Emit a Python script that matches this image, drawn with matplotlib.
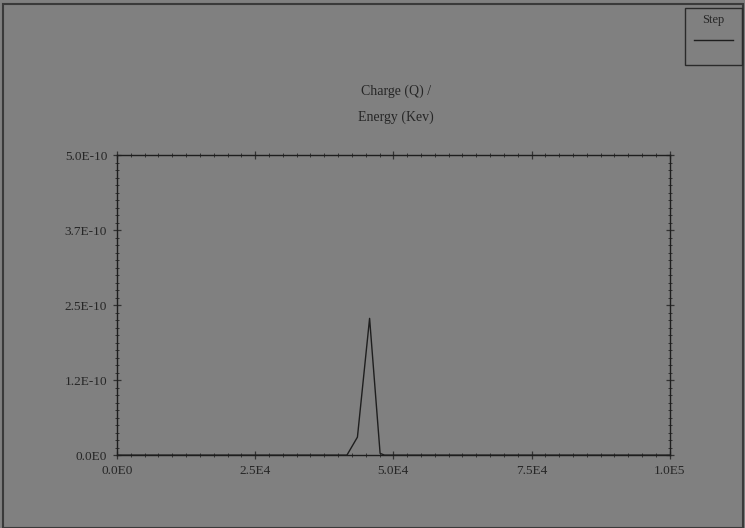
import matplotlib
matplotlib.use("Agg")
import matplotlib.pyplot as plt
from matplotlib.ticker import MultipleLocator
from matplotlib.patches import Rectangle
from matplotlib.lines import Line2D

# Step spectrum: charge vs energy
energy = [0, 40000, 41600, 43500, 45700, 47600, 48400, 100000]
charge = [0, 0, 0, 0.30e-10, 2.28e-10, 0.03e-10, 0, 0]

x_ticks = [0, 25000, 50000, 75000, 100000]
x_labels = ["0.0E0", "2.5E4", "5.0E4", "7.5E4", "1.0E5"]
y_ticks = [0, 1.25e-10, 2.5e-10, 3.75e-10, 5.0e-10]
y_labels = ["0.0E0", "1.2E-10", "2.5E-10", "3.7E-10", "5.0E-10"]

bg = "#808080"
ink = "#1e1e1e"
txt = "#262626"

plt.rcParams['font.family'] = ['Liberation Serif', 'DejaVu Serif']

fig = plt.figure(figsize=(7.45, 5.28), dpi=100, facecolor=bg)
fig.patches.append(Rectangle((0.004, 0.0), 0.993, 0.992, transform=fig.transFigure,
                             fill=False, edgecolor="#3a3a3a", linewidth=1.5))

ax = fig.add_axes([0.157, 0.138, 0.742, 0.568])
ax.set_facecolor(bg)
ax.plot(energy, charge, color=ink, linewidth=1.0)

ax.set_xlim(0, 100000)
ax.set_ylim(0, 5.0e-10)
ax.set_xticks(x_ticks)
ax.set_xticklabels(x_labels)
ax.set_yticks(y_ticks)
ax.set_yticklabels(y_labels)
ax.xaxis.set_minor_locator(MultipleLocator(2500))
ax.yaxis.set_minor_locator(MultipleLocator(0.125e-10))

for s in ax.spines.values():
    s.set_color(ink)
    s.set_linewidth(1.0)

ax.tick_params(which="both", direction="inout", top=True, right=True,
               color="#333333", labelcolor=txt, labelsize=9.5)
ax.tick_params(which="major", length=6, width=0.9, pad=4)
ax.tick_params(which="minor", length=3.5, width=0.7)

# two-line title above the plot
fig.text(0.532, 0.828, "Charge (Q) /", ha="center", va="center", fontsize=10, color=txt)
fig.text(0.532, 0.777, "Energy (Kev)", ha="center", va="center", fontsize=10, color=txt)

# legend box in the upper right corner
fig.patches.append(Rectangle((0.919, 0.877), 0.077, 0.108, transform=fig.transFigure,
                             fill=False, edgecolor="#2a2a2a", linewidth=1.0))
fig.text(0.958, 0.962, "Step", ha="center", va="center", fontsize=9, color=txt)
fig.lines.append(Line2D([0.932, 0.984], [0.924, 0.924], transform=fig.transFigure,
                        color=ink, linewidth=1.0))

plt.savefig("out.png", dpi=100, facecolor=bg)
